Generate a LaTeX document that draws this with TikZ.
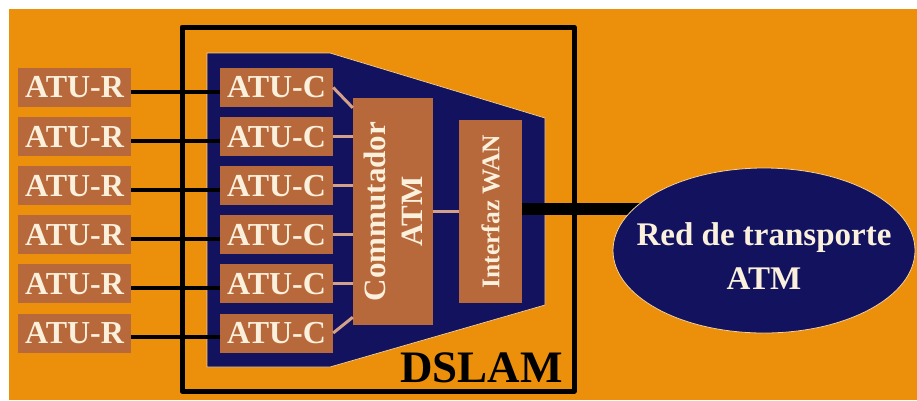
\documentclass[tikz,border=0pt]{standalone}
\usepackage{fontspec}
\setmainfont{Liberation Serif}
\usetikzlibrary{shapes.geometric,calc}
\pgfdeclarelayer{under}
\pgfdeclarelayer{wires}
\pgfsetlayers{under,wires,main}

\definecolor{bgorange}{HTML}{EC8F0B}
\definecolor{navy}{HTML}{12125E}
\definecolor{cardbrown}{HTML}{B8693B}
\definecolor{cream}{HTML}{FAF0DC}
\definecolor{tanline}{HTML}{D3A08A}
\definecolor{rim}{HTML}{F4CF96}

\tikzset{
  unitbox/.style={fill=cardbrown, text=cream, inner sep=0pt,
    minimum width=113pt, minimum height=39pt,
    font=\bfseries\fontsize{32}{32}\selectfont},
  panel/.style={fill=cardbrown, inner sep=0pt},
  vlabel/.style={rotate=90, text=cream, align=center, inner sep=0pt},
  loop/.style={line width=4pt, black},
  bus/.style={line width=3pt, tanline},
  trunk/.style={line width=12pt, black},
}

\begin{document}
\begin{tikzpicture}[x=1pt, y=-1pt]
\useasboundingbox (0,0) rectangle (917,400);

\begin{pgfonlayer}{under}
  % page margin and orange backdrop
  \fill[white] (0,0) rectangle (917,400);
  \fill[bgorange] (9,9) rectangle (917,400);
  % DSLAM cabinet
  \draw[line width=5pt, line join=round] (182,27) rectangle (574,391);
  % internal backplane
  \filldraw[fill=navy, draw=rim, line width=0.7pt]
    (207,53) -- (330,53) -- (545,118) -- (545,305)
    -- (330,367) -- (207,367) -- cycle;
\end{pgfonlayer}

% subscriber modems and line cards
\foreach \i in {1,...,6} {
  \pgfmathsetmacro\yy{87.5+49.1*(\i-1)}
  \node[unitbox] (r\i) at (74.5,\yy) {ATU-R};
  \node[unitbox] (c\i) at (276.5,\yy) {ATU-C};
}
\foreach \i in {1,...,6}
  \draw[loop] ([yshift=-4pt]r\i.east) -- ([yshift=-4pt]c\i.west);

% ATM switch
\node[panel, minimum width=80pt, minimum height=227pt] (com) at (393,211.5) {};
\node[vlabel, font=\bfseries\fontsize{31}{37}\selectfont] (comtxt) at (com.center)
  {Commutador\\ATM};

% WAN interface
\node[panel, minimum width=63pt, minimum height=183pt] (wan) at (490.5,211.5) {};
\node[vlabel, font=\bfseries\fontsize{25.5}{30}\selectfont] (wantxt) at (wan.center)
  {Interfaz WAN};

% line cards to switch
\draw[bus] (c1.east) -- ($(com.north west)+(0,10)$);
\foreach \i in {2,...,5}
  \draw[bus] (c\i.east) -- (c\i.east -| com.west);
\draw[bus] (c6.east) -- ($(com.south west)+(0,-8)$);
\draw[bus] (com.east) -- (wan.west);

% transport network
\node[ellipse, fill=navy, draw=rim, line width=0.8pt,
      minimum width=302pt, minimum height=165pt, inner sep=0pt]
  (red) at (764,250.5) {};
\node[text=cream, align=center, inner sep=0pt,
      font=\bfseries\fontsize{33}{44}\selectfont] (redtxt)
  at ($(red.center)+(0,6)$) {Red de transporte\\ATM};

\begin{pgfonlayer}{wires}
  \draw[trunk] ([yshift=2.5pt]wan.east) -- ([yshift=2.5pt]wan.east -| red.center);
\end{pgfonlayer}

\node[anchor=base east, inner sep=0pt,
      font=\bfseries\fontsize{45}{45}\selectfont] (dslam) at (563,382) {DSLAM};
\end{tikzpicture}
\end{document}
